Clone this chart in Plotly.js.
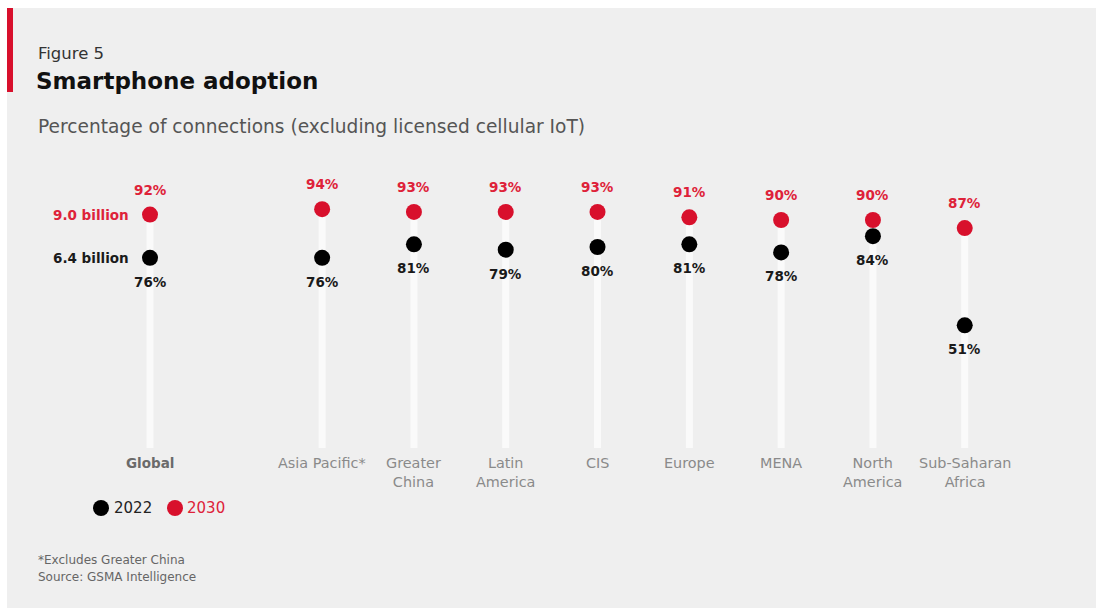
<!DOCTYPE html>
<html>
<head>
<meta charset="utf-8">
<script src="https://cdn.plot.ly/plotly-3.0.1.min.js"></script>
<style>
  html, body { margin: 0; padding: 0; background: #ffffff; }
  #chart { width: 1096px; height: 608px; }
</style>
</head>
<body>
<div id="chart"></div>
<script>
// Smartphone adoption: share of connections (excluding licensed cellular IoT), 2022 vs 2030
const categories = ['Global', 'Asia Pacific*', 'Greater<br>China', 'Latin<br>America', 'CIS', 'Europe', 'MENA', 'North<br>America', 'Sub-Saharan<br>Africa'];
const share2022 = [76, 76, 81, 79, 80, 81, 78, 84, 51];
const share2030 = [92, 94, 93, 93, 93, 91, 90, 90, 87];
const globalBillions2022 = 6.4;
const globalBillions2030 = 9.0;
const years = ['2022', '2030'];

const W = 1096, H = 608;
const RED = '#d8102c';
const RED_TEXT = '#de2239';
const FONT = 'DejaVu Sans, sans-serif';

// Global sits apart from the regions, which follow after a wider gap
const GAP = 0.875;
const pos = categories.map((c, i) => (i === 0 ? 0 : i + GAP));
const STEM_BASE = 5.6;

// pixel helpers for paper-referenced decorations
const px = v => v / W;
const py = v => 1 - v / H;

// white stems from the baseline up to the 2030 value
const stemX = [], stemY = [];
pos.forEach((p, i) => {
  stemX.push(p, p, null);
  stemY.push(STEM_BASE, share2030[i], null);
});

const traces = [
  {
    type: 'scatter', mode: 'lines', x: stemX, y: stemY,
    line: { color: '#fafafa', width: 7 },
    hoverinfo: 'skip', showlegend: false
  },
  {
    type: 'scatter', mode: 'markers', name: years[0], x: pos, y: share2022,
    marker: { color: '#000000', size: 16 },
    hoverinfo: 'skip', showlegend: false
  },
  {
    type: 'scatter', mode: 'markers', name: years[1], x: pos, y: share2030,
    marker: { color: RED, size: 16 },
    hoverinfo: 'skip', showlegend: false
  }
];

const annotations = [];

// value labels
pos.forEach((p, i) => {
  annotations.push({
    x: p, y: share2030[i], xref: 'x', yref: 'y', text: share2030[i] + '%',
    showarrow: false, yshift: 25,
    font: { family: FONT, size: 13.5, color: RED_TEXT, weight: 'bold' }
  });
  annotations.push({
    x: p, y: share2022[i], xref: 'x', yref: 'y', text: share2022[i] + '%',
    showarrow: false, yshift: -24,
    font: { family: FONT, size: 13.5, color: '#1a1a1a', weight: 'bold' }
  });
});

// connection totals next to the Global dots
annotations.push({
  x: pos[0], y: share2030[0], xref: 'x', yref: 'y', text: globalBillions2030.toFixed(1) + ' billion',
  showarrow: false, xanchor: 'right', xshift: -19,
  font: { family: FONT, size: 13.5, color: RED_TEXT, weight: 'bold' }
});
annotations.push({
  x: pos[0], y: share2022[0], xref: 'x', yref: 'y', text: globalBillions2022.toFixed(1) + ' billion',
  showarrow: false, xanchor: 'right', xshift: -19,
  font: { family: FONT, size: 13.5, color: '#1a1a1a', weight: 'bold' }
});

// category labels
pos.forEach((p, i) => {
  annotations.push({
    x: p, y: py(453), xref: 'x', yref: 'paper', text: categories[i],
    showarrow: false, yanchor: 'top', align: 'center',
    font: i === 0
      ? { family: FONT, size: 13.5, color: '#6a6a6a', weight: 'bold' }
      : { family: FONT, size: 14.4, color: '#8a8a8a' }
  });
});

// heading texts
annotations.push({
  x: px(36), y: py(53), xref: 'paper', yref: 'paper', xanchor: 'left', yanchor: 'middle',
  text: 'Figure 5', showarrow: false,
  font: { family: FONT, size: 16.5, color: '#333333' }
});
annotations.push({
  x: px(36), y: py(127), xref: 'paper', yref: 'paper', xanchor: 'left', yanchor: 'middle',
  text: 'Percentage of connections (excluding licensed cellular IoT)', showarrow: false,
  font: { family: FONT, size: 18.6, color: '#555555' }
});

// legend
annotations.push({
  x: px(112), y: py(508), xref: 'paper', yref: 'paper', xanchor: 'left', yanchor: 'middle',
  text: years[0], showarrow: false,
  font: { family: FONT, size: 15, color: '#222222' }
});
annotations.push({
  x: px(185), y: py(508), xref: 'paper', yref: 'paper', xanchor: 'left', yanchor: 'middle',
  text: years[1], showarrow: false,
  font: { family: FONT, size: 15, color: RED_TEXT }
});

// footnotes
annotations.push({
  x: px(36), y: py(560), xref: 'paper', yref: 'paper', xanchor: 'left', yanchor: 'middle',
  text: '*Excludes Greater China', showarrow: false,
  font: { family: FONT, size: 12, color: '#666666' }
});
annotations.push({
  x: px(36), y: py(577), xref: 'paper', yref: 'paper', xanchor: 'left', yanchor: 'middle',
  text: 'Source: GSMA Intelligence', showarrow: false,
  font: { family: FONT, size: 12, color: '#666666' }
});

const shapes = [
  // grey panel
  { type: 'rect', xref: 'paper', yref: 'paper', x0: px(7), x1: 1, y0: 0, y1: py(8),
    fillcolor: '#efefef', line: { width: 0 }, layer: 'below' },
  // red accent bar
  { type: 'rect', xref: 'paper', yref: 'paper', x0: px(7), x1: px(13), y0: py(92), y1: py(8),
    fillcolor: RED, line: { width: 0 }, layer: 'below' },
  // legend keys
  { type: 'circle', xref: 'paper', yref: 'paper', x0: px(93), x1: px(109), y0: py(516), y1: py(500),
    fillcolor: '#000000', line: { width: 0 } },
  { type: 'circle', xref: 'paper', yref: 'paper', x0: px(167), x1: px(183), y0: py(516), y1: py(500),
    fillcolor: RED, line: { width: 0 } }
];

const layout = {
  width: W, height: H,
  margin: { l: 0, r: 0, t: 0, b: 0, pad: 0 },
  paper_bgcolor: '#ffffff',
  plot_bgcolor: 'rgba(0,0,0,0)',
  title: {
    text: '<b>Smartphone adoption</b>',
    x: px(36), xanchor: 'left', xref: 'paper',
    y: py(81), yanchor: 'middle', yref: 'container',
    font: { family: FONT, size: 23, color: '#111111' }
  },
  xaxis: { range: [-150 / 91.8, (W - 150) / 91.8], visible: false, fixedrange: true },
  yaxis: { range: [(463 - H) / 2.7, 463 / 2.7], visible: false, fixedrange: true },
  showlegend: false,
  shapes: shapes,
  annotations: annotations
};

Plotly.newPlot('chart', traces, layout, { staticPlot: true, displayModeBar: false });
</script>
</body>
</html>
